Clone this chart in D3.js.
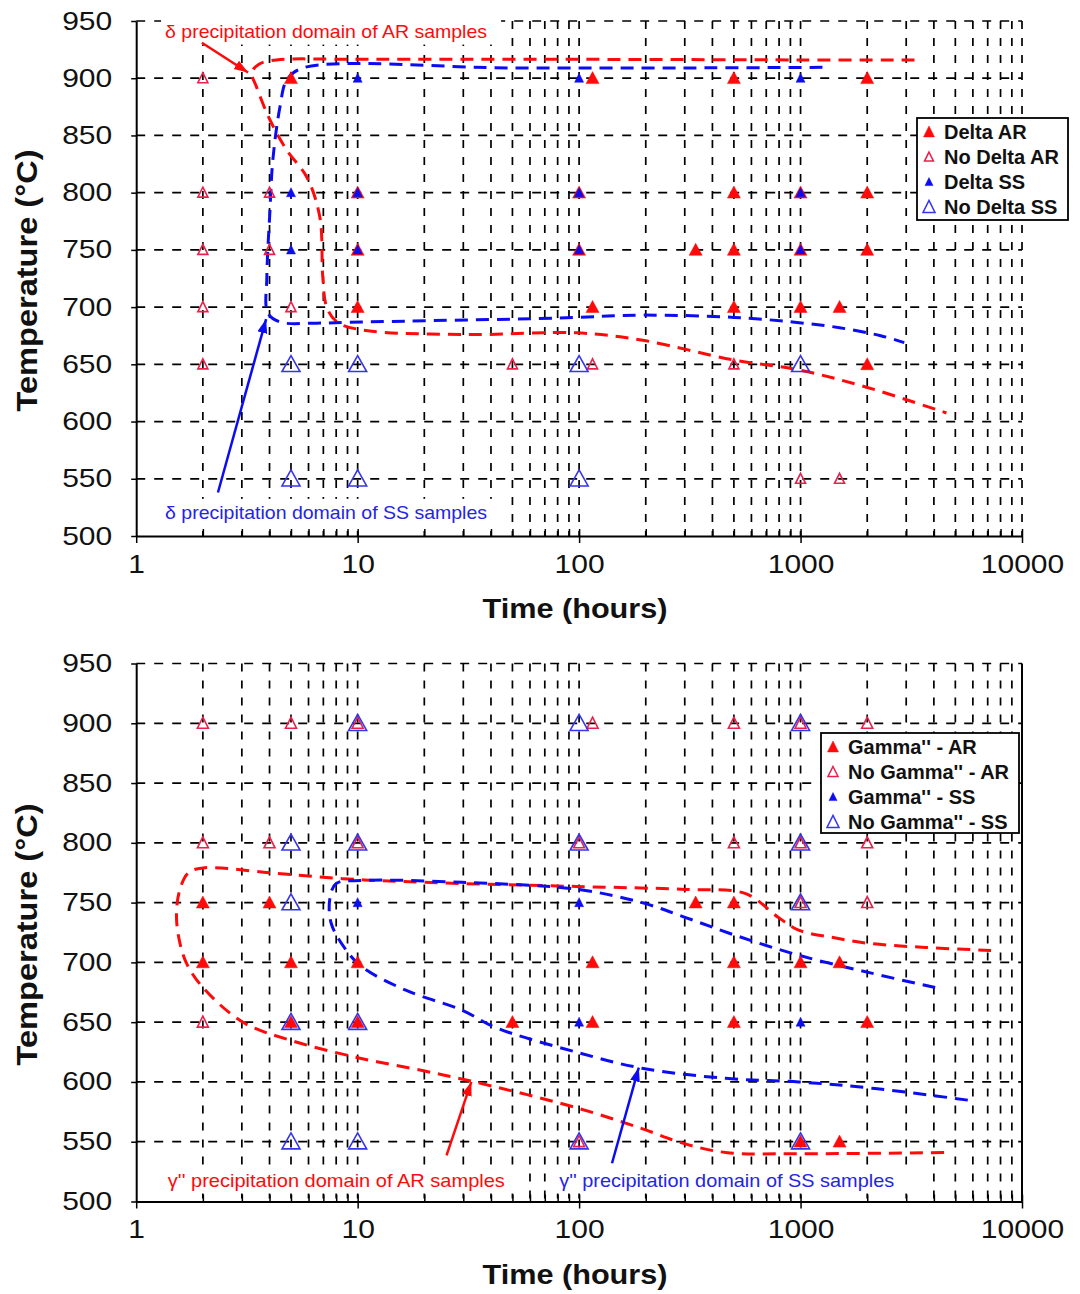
<!DOCTYPE html>
<html><head><meta charset="utf-8">
<script src="https://cdn.jsdelivr.net/npm/d3@7"></script>
<style>
body{margin:0;background:#fff}
svg{display:block}
text{font-family:"Liberation Sans",Arial,Helvetica,sans-serif}
</style>
</head><body>
<svg id="c" width="1080" height="1294"></svg>
<script>
// ---------- axis values ----------
const timeTicks = [1, 10, 100, 1000, 10000];
const gridTimes = [2,3,4,5,6,7,8,9,10,20,30,40,50,60,70,80,90,100,200,300,400,500,600,700,800,900,1000,2000,3000,4000,5000,6000,7000,8000,9000,10000];
const tempTicks = [500, 550, 600, 650, 700, 750, 800, 850, 900, 950];
const xTitle = "Time (hours)";
const yTitle = "Temperature (°C)";

// ---------- panel 1 : delta ----------
const deltaLegend = ["Delta AR", "No Delta AR", "Delta SS", "No Delta SS"];
const deltaAR = [[5,900],[115,900],[500,900],[2000,900],
  [10,800],[100,800],[500,800],[1000,800],[2000,800],
  [10,750],[100,750],[336,750],[500,750],[1000,750],[2000,750],
  [10,700],[115,700],[500,700],[1000,700],[1500,700],
  [2000,650]];
const noDeltaAR = [[2,900],[2,800],[4,800],[2,750],[4,750],[2,700],[5,700],
  [2,650],[50,650],[115,650],[500,650],[1000,550],[1500,550]];
const deltaSS = [[10,900],[100,900],[1000,900],[5,800],[10,800],[100,800],[1000,800],
  [5,750],[10,750],[100,750],[1000,750]];
const noDeltaSS = [[5,650],[10,650],[100,650],[1000,650],[5,550],[10,550],[100,550]];
const deltaDomainAR = [[3270,916],[1000,916],[100,916.5],[10,916.5],[4.3,916],[3.6,912.5],[3.33,905],
  [3.5,892],[4.02,863.5],[4.79,837],[5.9,813.5],[6.75,778.5],[6.96,726],[7.25,700],[8.07,687],
  [10.5,680],[32,676],[97,677.5],[194,671],[493,654],[989,645],[1985,630],[4560,607.5]];
const deltaDomainSS = [[1256,909.5],[300,909],[50,909],[5.66,909],[4.79,898.5],[4.46,875],[4.14,828.5],
  [4.02,785],[3.89,726],[3.93,695],[4.46,687],[6.54,686],[10.5,687],[81.7,690.5],[194,693],
  [500,691],[920,687],[1500,682],[2300,675],[2940,669]];
const deltaNotes = ["δ precipitation domain of AR samples", "δ precipitation domain of SS samples"];

// ---------- panel 2 : gamma'' ----------
const gammaLegend = ["Gamma'' - AR", "No Gamma'' - AR", "Gamma'' - SS", "No Gamma'' - SS"];
const gammaAR = [[2,750],[4,750],[336,750],[500,750],
  [2,700],[5,700],[10,700],[115,700],[500,700],[1000,700],[1500,700],
  [5,650],[10,650],[50,650],[115,650],[500,650],[2000,650],
  [1000,550],[1500,550]];
const noGammaAR = [[2,900],[5,900],[10,900],[115,900],[500,900],[1000,900],[2000,900],
  [2,800],[4,800],[10,800],[100,800],[500,800],[1000,800],[2000,800],
  [1000,750],[2000,750],[2,650],[100,550]];
const gammaSS = [[10,750],[100,750],[100,650],[1000,650]];
const noGammaSS = [[10,900],[100,900],[1000,900],[5,800],[10,800],[100,800],[1000,800],
  [5,750],[1000,750],[5,650],[10,650],[5,550],[10,550],[100,550],[1000,550]];
const gammaDomainAR = [[7250,710],[3660,712.5],[2020,716],[1380,721],[980,727],[795,737.5],[565,757.5],
  [303,761],[97,763.5],[19.6,767],[8.56,770],[4.0,775],[2.0,779],[1.72,775],[1.57,760],[1.52,740],
  [1.56,720],[1.68,700],[1.98,680],[3.03,650],[4.94,635],[9.9,620.5],[19.6,609.5],[32,601],
  [97,578.5],[192,561],[291,549],[459,541],[980,540],[4790,541]];
const gammaDomainSS = [[4055,679],[2090,691],[980,706],[510,722.5],[303,737.5],[192,750],[99,761],
  [29.6,767],[10.5,768.5],[8.0,766],[7.5,754],[7.6,732.5],[8.9,710],[10.5,696],[16.6,676.5],
  [29.6,660],[42,645.5],[97,625],[192,611.5],[459,603],[980,600],[2165,594.5],[5850,584.5]];
const gammaNotes = ["γ'' precipitation domain of AR samples", "γ'' precipitation domain of SS samples"];

// ---------- styles ----------
const RED = "#ff0a0a", RED_O = "#ec1f4a", BLUE = "#0c0cf2", BLUE_O = "#3535ee";
const svg = d3.select("#c");
const x = d3.scaleLog().domain([1, 10000]).range([136.2, 1022]);

const defs = svg.append("defs");
[["arR", RED], ["arB", BLUE]].forEach(([id, c]) => {
  defs.append("marker").attr("id", id).attr("markerUnits", "userSpaceOnUse")
    .attr("markerWidth", 16).attr("markerHeight", 12).attr("refX", 14).attr("refY", 5)
    .attr("orient", "auto").append("path").attr("d", "M0,0L14,5L0,10Z").attr("fill", c);
});

function tri(w, h) { return `M0,${-h*0.55}L${w/2},${h*0.45}L${-w/2},${h*0.45}Z`; }

function panel(o) {
  const g = svg.append("g");
  const y = d3.scaleLinear().domain([500, 950]).range([o.yb, o.yt]);

  // grid
  g.append("g").selectAll("line").data(gridTimes.filter(t => !(o.rightBorder && t === 10000))).join("line")
    .attr("x1", d => x(d)).attr("x2", d => x(d)).attr("y1", y(950)).attr("y2", y(500))
    .attr("stroke", "#000").attr("stroke-width", 1.7).attr("stroke-dasharray", "8,9");
  g.append("g").selectAll("line").data(tempTicks.filter(t => t > 500)).join("line")
    .attr("x1", x(1)).attr("x2", x(10000)).attr("y1", d => y(d)).attr("y2", d => y(d))
    .attr("stroke", "#000").attr("stroke-width", 1.7).attr("stroke-dasharray", "9,9");
  if (o.rightBorder) g.append("line").attr("x1", x(10000)).attr("x2", x(10000))
    .attr("y1", y(950)).attr("y2", y(500)).attr("stroke", "#000").attr("stroke-width", 2);

  // annotation text with white boxes
  o.notes.forEach(n => {
    const t = g.append("text").attr("x", x(n.t)).attr("y", y(n.v)).attr("fill", n.color)
      .attr("font-size", 19).attr("textLength", n.len).attr("lengthAdjust", "spacingAndGlyphs")
      .text(n.text);
    const b = t.node().getBBox();
    g.insert("rect", () => t.node()).attr("x", b.x - 4).attr("y", b.y - 3)
      .attr("width", b.width + 18).attr("height", b.height + 6).attr("fill", "#fff");
  });

  // axes
  const ya = g.append("g").attr("transform", `translate(${x(1)},0)`)
    .call(d3.axisLeft(y).tickValues(tempTicks).tickSize(5).tickSizeOuter(0).tickPadding(15));
  ya.select(".domain").attr("stroke-width", 2);
  ya.selectAll(".tick line").attr("stroke-width", 1.5);
  ya.selectAll("text").attr("font-size", 25).attr("fill", "#111").attr("transform", "scale(1.2,1)")
    .attr("font-family", "Liberation Sans, Arial, sans-serif");

  const xa = g.append("g").attr("transform", `translate(0,${y(500)})`)
    .call(d3.axisBottom(x).tickValues(timeTicks).tickSize(7).tickSizeOuter(0).tickPadding(12)
      .tickFormat(d3.format("d")));
  xa.select(".domain").attr("stroke-width", 2);
  xa.selectAll(".tick line").attr("stroke-width", 1.5);
  xa.selectAll("text").attr("font-size", 25).attr("fill", "#111").attr("transform", "scale(1.2,1)")
    .attr("font-family", "Liberation Sans, Arial, sans-serif");
  const xm = g.append("g").attr("transform", `translate(0,${y(500)})`)
    .call(d3.axisBottom(x).tickValues(gridTimes).tickSize(-7).tickSizeOuter(0).tickFormat(""));
  xm.select(".domain").remove();
  xm.selectAll(".tick line").attr("stroke-width", 1.5);

  // titles
  g.append("text").attr("x", 575).attr("y", y(500) + 82).attr("text-anchor", "middle")
    .attr("font-size", 28).attr("font-weight", "bold").attr("textLength", 185)
    .attr("lengthAdjust", "spacingAndGlyphs").attr("fill", "#111").text(xTitle);
  g.append("text").attr("transform", `translate(37,${(y(500) + y(950)) / 2 + 2}) rotate(-90)`)
    .attr("text-anchor", "middle").attr("font-size", 30).attr("font-weight", "bold")
    .attr("textLength", 262).attr("lengthAdjust", "spacingAndGlyphs").attr("fill", "#111").text(yTitle);

  // domain curves
  const line = d3.line().x(d => x(d[0])).y(d => y(d[1])).curve(d3.curveCatmullRom.alpha(0.5));
  o.curves.forEach(c => {
    g.append("path").attr("d", line(c.data)).attr("fill", "none").attr("stroke", c.color)
      .attr("stroke-width", 3).attr("stroke-dasharray", "13,8");
  });

  // arrows
  o.arrows.forEach(a => {
    g.append("line").attr("x1", x(a.from[0])).attr("y1", y(a.from[1]))
      .attr("x2", x(a.to[0])).attr("y2", y(a.to[1])).attr("stroke", a.color)
      .attr("stroke-width", 2.5).attr("marker-end", `url(#${a.marker})`);
  });

  // markers
  o.series.forEach(s => {
    g.append("g").selectAll("path").data(s.data).join("path")
      .attr("transform", d => `translate(${x(d[0])},${y(d[1])})`)
      .attr("d", tri(s.w, s.h))
      .attr("fill", s.filled ? s.color : "none")
      .attr("stroke", s.color).attr("stroke-width", s.filled ? 0.5 : 1.6);
  });

  // legend
  const L = o.legend;
  const lg = g.append("g");
  lg.append("rect").attr("x", L.x).attr("y", L.y).attr("width", L.w).attr("height", L.h)
    .attr("fill", "#fff").attr("stroke", "#000").attr("stroke-width", 1.8);
  o.series.forEach((s, i) => {
    const cy = L.y + 14 + i * 25;
    lg.append("path").attr("transform", `translate(${L.x + 12},${cy})`)
      .attr("d", tri(s.lw, s.lw))
      .attr("fill", s.filled ? s.color : "none").attr("stroke", s.color)
      .attr("stroke-width", s.filled ? 0.5 : 1.5);
    lg.append("text").attr("x", L.x + 27).attr("y", cy + 7).attr("font-size", 20)
      .attr("font-weight", "bold").attr("fill", "#111").text(L.labels[i]);
  });
}

panel({
  yb: 536, yt: 21, rightBorder: false,
  notes: [{t: 1.35, v: 935.5, text: deltaNotes[0], color: RED, len: 322},
          {t: 1.35, v: 515, text: deltaNotes[1], color: "#2424e6", len: 322}],
  curves: [{data: deltaDomainAR, color: RED}, {data: deltaDomainSS, color: BLUE}],
  arrows: [{from: [1.98, 931], to: [3.2, 905], color: RED, marker: "arR"},
           {from: [2.34, 538], to: [3.86, 689.5], color: BLUE, marker: "arB"}],
  series: [
    {data: deltaAR, color: RED, filled: true, w: 13, h: 12, lw: 11},
    {data: noDeltaAR, color: RED_O, filled: false, w: 10, h: 10, lw: 9},
    {data: deltaSS, color: BLUE, filled: true, w: 9, h: 9, lw: 8},
    {data: noDeltaSS, color: BLUE_O, filled: false, w: 18, h: 16, lw: 12}
  ],
  legend: {x: 917, y: 118, w: 151, h: 102, labels: deltaLegend}
});

panel({
  yb: 1201.5, yt: 663.5, rightBorder: true,
  notes: [{t: 1.39, v: 512.5, text: gammaNotes[0], color: RED, len: 337},
          {t: 81.3, v: 512.5, text: gammaNotes[1], color: "#2424e6", len: 335}],
  curves: [{data: gammaDomainAR, color: RED}, {data: gammaDomainSS, color: BLUE}],
  arrows: [{from: [25.2, 538.5], to: [32.6, 600], color: RED, marker: "arR"},
           {from: [140.8, 532], to: [186, 612], color: BLUE, marker: "arB"}],
  series: [
    {data: gammaAR, color: RED, filled: true, w: 13, h: 12, lw: 11},
    {data: noGammaAR, color: RED_O, filled: false, w: 11, h: 11, lw: 10},
    {data: gammaSS, color: BLUE, filled: true, w: 9, h: 9, lw: 8},
    {data: noGammaSS, color: BLUE_O, filled: false, w: 18, h: 16, lw: 12}
  ],
  legend: {x: 821, y: 733, w: 198, h: 100, labels: gammaLegend}
});
</script>
</body></html>
